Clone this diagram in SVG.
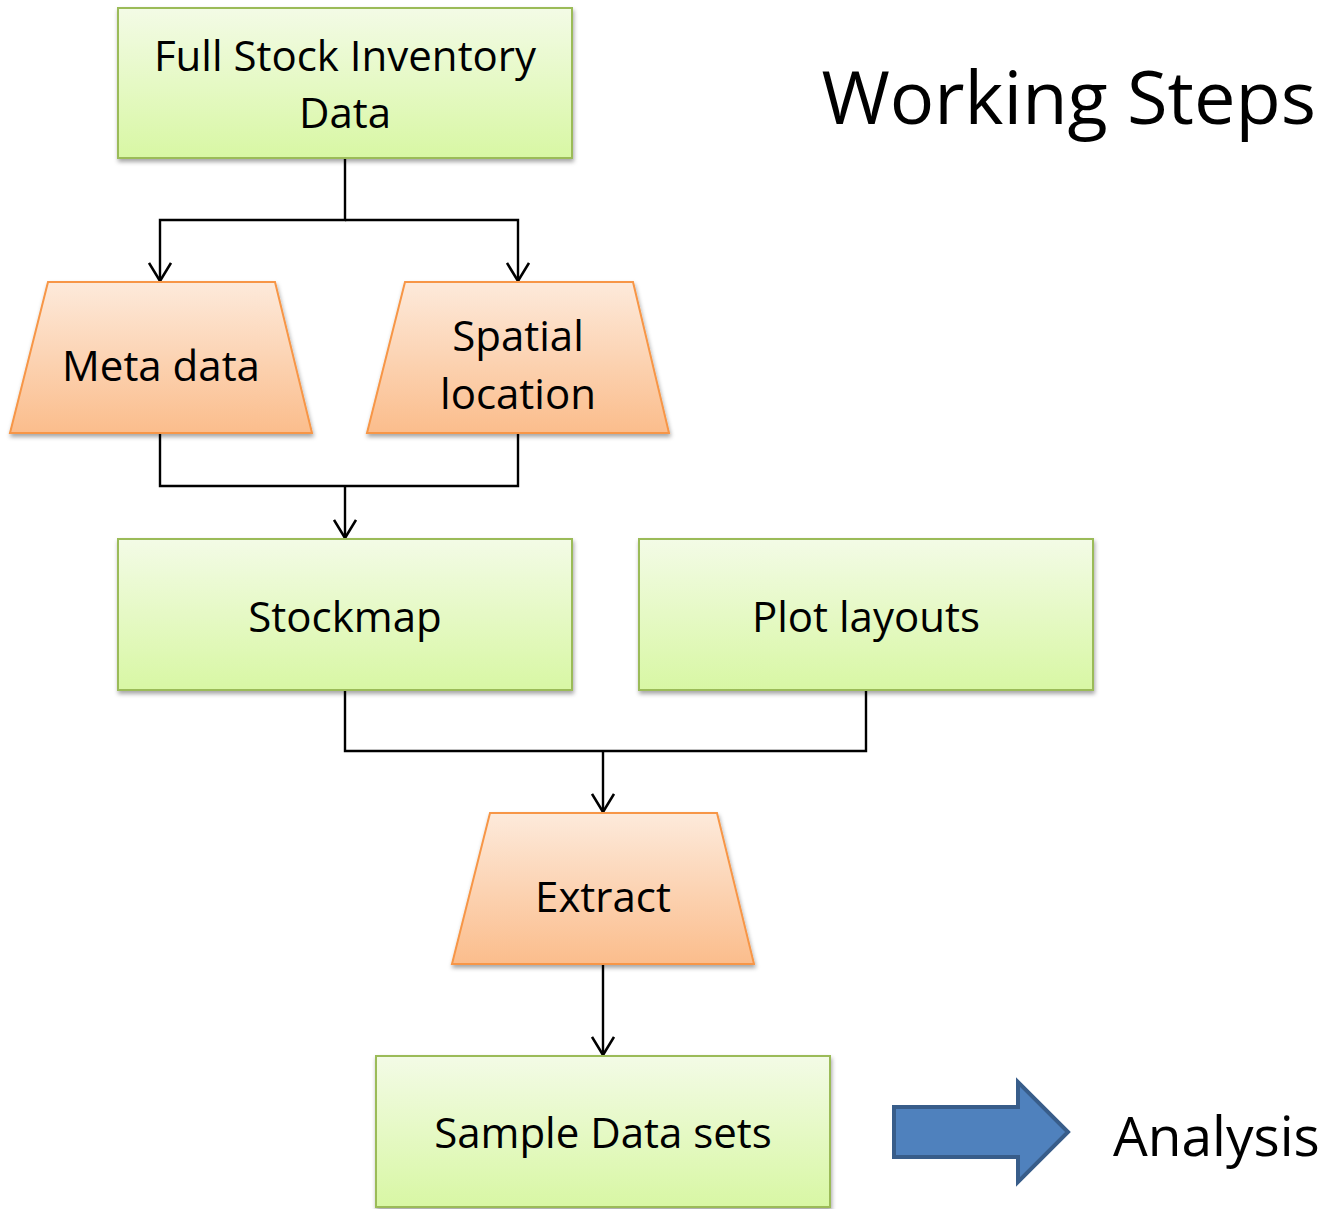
<svg xmlns="http://www.w3.org/2000/svg" width="1326" height="1209" viewBox="0 0 1326 1209">
  <defs>
    <linearGradient id="gGreen" x1="0" y1="0" x2="0" y2="1">
      <stop offset="0" stop-color="#f3fbe6"/>
      <stop offset="1" stop-color="#d8f7a4"/>
    </linearGradient>
    <linearGradient id="gOrange" x1="0" y1="0" x2="0" y2="1">
      <stop offset="0" stop-color="#fdeadb"/>
      <stop offset="1" stop-color="#fbbd8c"/>
    </linearGradient>
    <filter id="shadow" x="-10%" y="-10%" width="120%" height="130%">
      <feDropShadow dx="1" dy="3" stdDeviation="2" flood-color="#000" flood-opacity="0.35"/>
    </filter>
    <!-- open V arrowhead, drawn pointing along +x -->
    <marker id="arrow" viewBox="0 0 24 24" refX="21" refY="12" markerWidth="24" markerHeight="24" markerUnits="userSpaceOnUse" orient="auto">
      <path d="M3,1 L21,12 L3,23" fill="none" stroke="#000" stroke-width="2.6"/>
    </marker>
  </defs>
  <style>
    .box { fill: url(#gGreen); stroke: #9bbb59; stroke-width: 2; filter: url(#shadow); }
    .trap { fill: url(#gOrange); stroke: #f79646; stroke-width: 2; filter: url(#shadow); }
    .lbl { font-family: "Open Sans", "Noto Sans", sans-serif; font-size: 42px; fill: #000; text-anchor: middle; }
    .conn { fill: none; stroke: #000; stroke-width: 2.4; }
  </style>
  <rect width="1326" height="1209" fill="#fff"/>

  <text x="1316" y="124" font-family="Open Sans, sans-serif" font-size="74" text-anchor="end">Working Steps</text>

  <g id="connectors">
    <path class="conn" d="M345,158 V220 H160 V281" marker-end="url(#arrow)"/>
    <path class="conn" d="M345,220 H518 V281" marker-end="url(#arrow)"/>
    <path class="conn" d="M160,433 V486 H518 V433"/>
    <path class="conn" d="M345,486 V538" marker-end="url(#arrow)"/>
    <path class="conn" d="M345,690 V751 H866 V690"/>
    <path class="conn" d="M603,751 V812" marker-end="url(#arrow)"/>
    <path class="conn" d="M603,964 V1055" marker-end="url(#arrow)"/>
  </g>

  <g id="full-stock">
    <rect class="box" x="118" y="8" width="454" height="150"/>
    <text class="lbl" x="345" y="71">Full Stock Inventory</text>
    <text class="lbl" x="345" y="128">Data</text>
  </g>

  <g id="meta-data">
    <polygon class="trap" points="48,282 275,282 312,433 10,433"/>
    <text class="lbl" x="161" y="381">Meta data</text>
  </g>

  <g id="spatial-location">
    <polygon class="trap" points="405,282 633,282 669,433 367,433"/>
    <text class="lbl" x="518" y="351">Spatial</text>
    <text class="lbl" x="518" y="409">location</text>
  </g>

  <g id="stockmap">
    <rect class="box" x="118" y="539" width="454" height="151"/>
    <text class="lbl" x="345" y="632">Stockmap</text>
  </g>

  <g id="plot-layouts">
    <rect class="box" x="639" y="539" width="454" height="151"/>
    <text class="lbl" x="866" y="632">Plot layouts</text>
  </g>

  <g id="extract">
    <polygon class="trap" points="490,813 717,813 754,964 452,964"/>
    <text class="lbl" x="603" y="912">Extract</text>
  </g>

  <g id="sample-data-sets">
    <rect class="box" x="376" y="1056" width="454" height="151"/>
    <text class="lbl" x="603" y="1148">Sample Data sets</text>
  </g>

  <g id="analysis">
    <polygon points="894,1107 1018,1107 1018,1082 1068,1132 1018,1182 1018,1157 894,1157" fill="#4f81bd" stroke="#385d8a" stroke-width="4"/>
    <text x="1113" y="1156" font-family="Open Sans, sans-serif" font-size="55">Analysis</text>
  </g>
</svg>
